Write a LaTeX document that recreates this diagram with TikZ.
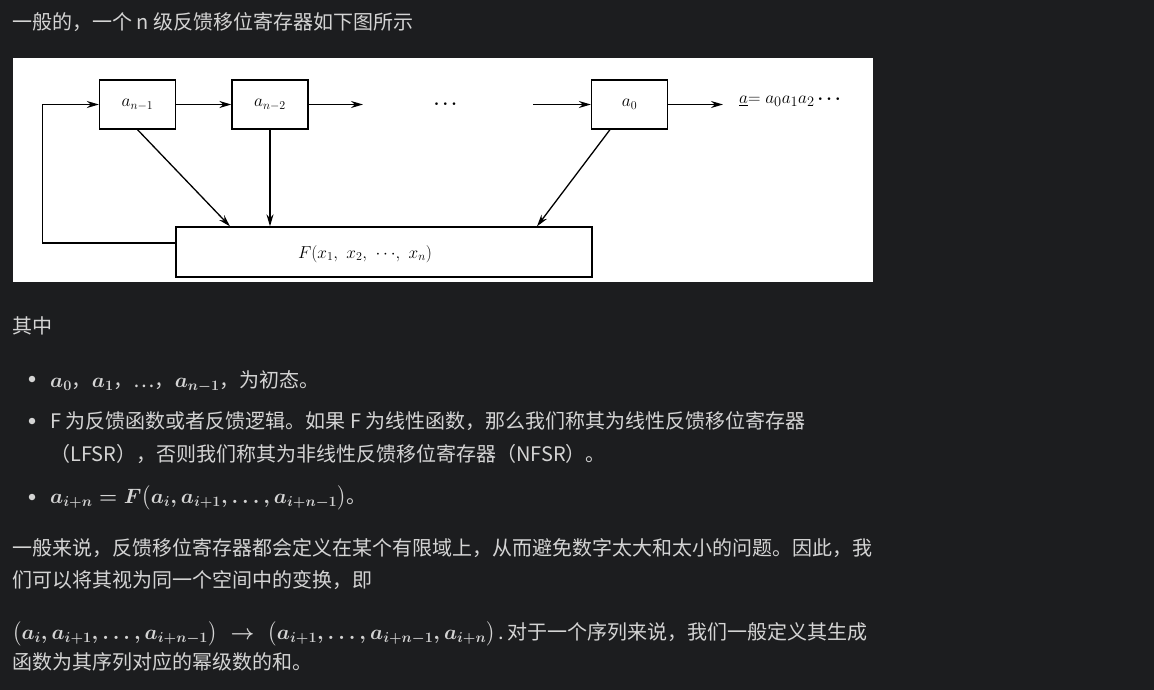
\documentclass[tikz,border=0pt]{standalone}
\usepackage[no-math]{fontspec}
\usepackage{amsmath,amssymb}
\usepackage{xcolor}
\usetikzlibrary{arrows.meta,positioning}

\newfontfamily\cjk{Noto Sans CJK SC}
\definecolor{pagebg}{HTML}{1C1D1F}
\definecolor{pagetext}{HTML}{D4D4D4}
\newcommand{\txtmath}[1]{{\fontsize{20.3}{24}\selectfont\boldmath$#1$}}

\tikzset{
  reg/.style={draw, line width=1.3pt, minimum width=76pt, minimum height=49pt,
    inner sep=0pt, font=\fontsize{18.5}{22}\selectfont},
  flow/.style={-{Stealth[length=12pt,width=7pt]}, line width=1.3pt},
  txtline/.style={anchor=base west, inner sep=0pt, text=pagetext,
    font=\cjk\fontsize{20}{22}\selectfont},
  bul/.style={circle, fill=pagetext, inner sep=0pt, minimum size=6.5pt},
}

\begin{document}
\begin{tikzpicture}[x=1pt, y=-1pt]

    \fill[pagebg] (0,0) rectangle (1154,690);
    \useasboundingbox (0,0) rectangle (1154,690);

    \node[txtline] (title) at (12,29.5) {一般的，一个 n 级反馈移位寄存器如下图所示};

    % the shift register figure
    \fill[white] (13,58) rectangle (873,282);

    \node[reg] (an1) at (137.5,104.5) {$a_{n-1}$};
    \node[reg] (an2) at (270,104.5) {$a_{n-2}$};
    \node[reg] (a0) at (629.5,104.5) {$a_0$};
    \node[draw, line width=1.3pt, minimum width=416pt, minimum height=50pt] (F) at (384,252) {};
    \node[font=\fontsize{18}{22}\selectfont] (Flabel) at (365,254) {$F(x_1,\ x_2,\ {\cdots},\ x_n)$};

    \coordinate (c1) at (363,104.5);
    \coordinate (c2) at (533,104.5);
    \coordinate (out) at (723,104.5);
    \node[font=\fontsize{18}{22}\selectfont\boldmath] (dots) at (447,104.5) {$\cdots$};
    \node[anchor=west, inner sep=0pt, font=\fontsize{19}{22}\selectfont] (seq) at (739,101)
      {$\underline{a}{=}\;a_0a_1a_2\,\boldsymbol{\cdots}$};

    \draw[flow] (an1.east) -- (an2.west);
    \draw[flow] (an2.east) -- (c1);
    \draw[flow] (c2) -- (a0.west);
    \draw[flow] (a0.east) -- (out);

    \draw[flow] (an1.south) -- ([xshift=-154pt]F.north);
    \draw[flow] (an2.south) -- (an2.south |- F.north);
    \draw[flow] ([xshift=-19.5pt]a0.south) -- ([xshift=153pt]F.north);
    \draw[flow] ([yshift=9pt]F.west) -- ++(-133,0) |- (an1.west);

    % text below the figure
    \node[txtline] (where) at (12,333.5) {其中};

    \node[bul] (b1) at (32,379) {};
    \node[txtline] (l1) at (50,387.5) {\txtmath{a_0}，\txtmath{a_1}，…，\txtmath{a_{n-1}}，为初态。};

    \node[bul] (b2) at (32,421) {};
    \node[txtline] (l2) at (50,428.5) {F 为反馈函数或者反馈逻辑。如果 F 为线性函数，那么我们称其为线性反馈移位寄存器};
    \node[txtline] (l3) at (50,461.5) {（LFSR），否则我们称其为非线性反馈移位寄存器（NFSR）。};

    \node[bul] (b3) at (32,497) {};
    \node[txtline] (l4) at (50,503.5) {\txtmath{a_{i+n}=F\bigl(a_i,a_{i+1},\ldots,a_{i+n-1}\bigr)}。};

    \node[txtline] (p1) at (12,555.5) {一般来说，反馈移位寄存器都会定义在某个有限域上，从而避免数字太大和太小的问题。因此，我};
    \node[txtline] (p2) at (12,587.5) {们可以将其视为同一个空间中的变换，即};

    \node[txtline] (p3) at (12,639.5) {\txtmath{\bigl(a_i,a_{i+1},\ldots,a_{i+n-1}\bigr)\;\to\;\bigl(a_{i+1},\ldots,a_{i+n-1},a_{i+n}\bigr)}\,.\,对于一个序列来说，我们一般定义其生成};
    \node[txtline] (p4) at (12,669.5) {函数为其序列对应的幂级数的和。};

\end{tikzpicture}
\end{document}
